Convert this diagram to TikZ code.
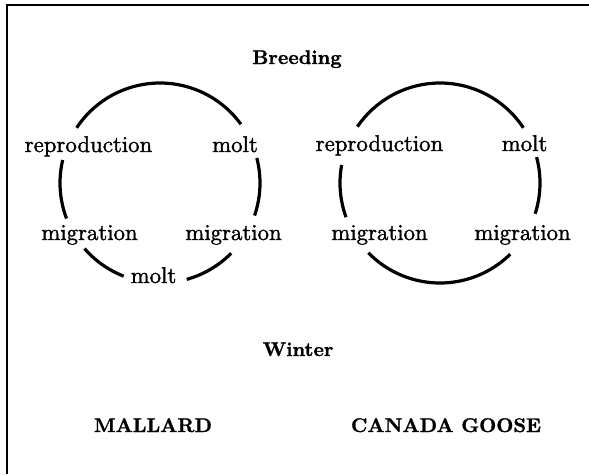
\documentclass[tikz,border=0pt]{standalone}
\usepackage{fontspec}
\usepackage{tikz}
\newfontfamily\cyclefont{lmroman10-regular.otf}[FakeBold=1.5]
\newfontfamily\titlefont{lmroman10-bold.otf}[FakeBold=1.2]

\begin{document}
\begin{tikzpicture}[x=1pt,y=-1pt,
    lbl/.style={anchor=base, inner sep=0pt, font=\cyclefont\fontsize{22.8}{27}\selectfont},
    ttl/.style={anchor=base, inner sep=0pt, font=\titlefont\fontsize{19.8}{24}\selectfont},
    ring/.style={line width=3.2pt}]
    \useasboundingbox (0,0) rectangle (589,474);
    % frame (top and left only)
    \draw[line width=2pt] (6.5,474) -- (6.5,4.5) -- (589,4.5);

    \node[ttl] (breed) at (297,64) {Breeding};
    \node[ttl] (winter) at (298,356) {Winter};
    \node[ttl] (mallard) at (153,432) {MALLARD};
    \node[ttl] (goose) at (446,432) {CANADA GOOSE};

    % mallard cycle
    \coordinate (mc) at (160,183);
    \node[lbl] (mrep) at (88.5,152) {reproduction};
    \node[lbl] (mmolt) at (235,152) {molt};
    \node[lbl] (mmigl) at (89.5,240) {migration};
    \node[lbl] (mmigr) at (233.5,240) {migration};
    \node[lbl] (mmoltb) at (153.5,283) {molt};
    \draw[ring] (mc) ++(-36:100) arc[start angle=-36, end angle=-146.5, radius=100];
    \draw[ring] (mc) ++(-166.7:100) arc[start angle=-166.7, end angle=-200.8, radius=100];
    \draw[ring] (mc) ++(-14.5:100) arc[start angle=-14.5, end angle=19, radius=100];
    \draw[ring] (mc) ++(-221:100) arc[start angle=-221, end angle=-248.7, radius=100];
    \draw[ring] (mc) ++(-285.5:100) arc[start angle=-285.5, end angle=-315.4, radius=100];

    % goose cycle
    \coordinate (gc) at (440,183);
    \node[lbl] (grep) at (379.5,151) {reproduction};
    \node[lbl] (gmolt) at (524.5,151) {molt};
    \node[lbl] (gmigl) at (379.5,240) {migration};
    \node[lbl] (gmigr) at (522.5,240) {migration};
    \draw[ring] (gc) ++(-33.5:100) arc[start angle=-33.5, end angle=-145.7, radius=100];
    \draw[ring] (gc) ++(-169.6:100) arc[start angle=-169.6, end angle=-200, radius=100];
    \draw[ring] (gc) ++(-15:100) arc[start angle=-15, end angle=17.9, radius=100];
    \draw[ring] (gc) ++(-224.2:100) arc[start angle=-224.2, end angle=-314.6, radius=100];
\end{tikzpicture}
\end{document}
